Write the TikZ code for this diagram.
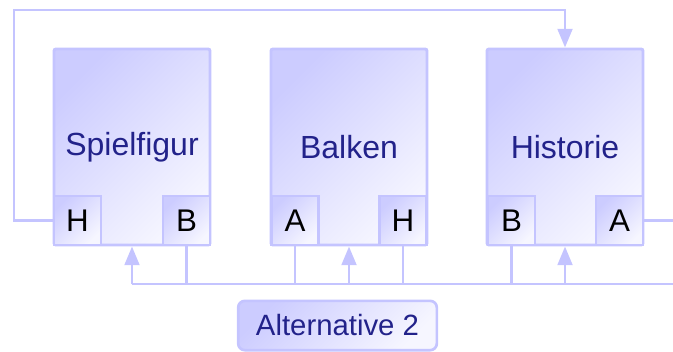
\documentclass[tikz,border=0pt]{standalone}
\usepackage{fontspec}
\setmainfont{Liberation Sans}
\usetikzlibrary{arrows.meta}
\definecolor{ln}{HTML}{C4C4FF}
\definecolor{fa}{HTML}{CCCCFF}
\definecolor{fb}{HTML}{F6F6FF}
\definecolor{tx}{HTML}{22228A}
\tikzset{
  grad/.style={top color=fa, bottom color=fb, shading angle=45},
  compbox/.style={draw=ln, line width=2.2pt, grad, rounded corners=1.5pt,
    minimum width=117pt, minimum height=147pt, inner sep=0pt,
    font=\fontsize{24}{28}\selectfont, text=tx},
  port/.style={draw=ln, line width=2.2pt, grad,
    minimum width=35.25pt, minimum height=36.75pt, inner sep=0pt,
    font=\fontsize{23.5}{28}\selectfont, text=black},
  wire/.style={draw=ln, line width=2.2pt},
  thinwire/.style={draw=ln, line width=1.5pt},
  arr/.style={wire, -{Triangle[width=11pt,length=14pt]}},
  labbox/.style={draw=ln, line width=2pt, grad, rounded corners=5pt,
    minimum width=149pt, minimum height=37pt, inner sep=0pt,
    font=\fontsize{22}{26}\selectfont, text=tx},
}
\begin{document}
\begin{tikzpicture}[x=0.75pt, y=-0.75pt]
\useasboundingbox (0,0) rectangle (673,351);
% boxes
\node[compbox] (sp) at (132,147) {Spielfigur};
\node[compbox] (ba) at (349,147) {Balken};
\node[compbox] (hi) at (565,147) {Historie};
% ports
\node[port] (spH) at (77.5,220.5) {H};
\node[port] (spB) at (186.5,220.5) {B};
\node[port] (baA) at (295,220.5) {A};
\node[port] (baH) at (403,220.5) {H};
\node[port] (hiB) at (511.5,220.5) {B};
\node[port] (hiA) at (619.5,220.5) {A};
% coordinates
\coordinate (lt) at (14,220.5);
\coordinate (tl) at (14,10);
\coordinate (tr) at (565,10);
\coordinate (bl) at (132,284);
\coordinate (br) at (673,284);
\coordinate (ar) at (673,220.5);
% top loop
\draw[arr] (spH.west) -- (lt) -- (tl) -- (tr) -- (hi.north);
% bus
\draw[wire] (bl) -- (br);
\draw[arr] (bl) -- (sp.south);
\draw[wire] (spB.south) -- (spB.south |- bl);
\draw[wire] (baA.south) -- (baA.south |- bl);
\draw[arr] (ba.south |- bl) -- (ba.south);
\draw[thinwire] (baH.south) -- (baH.south |- bl);
\draw[wire] (hiB.south) -- (hiB.south |- bl);
\draw[arr] (hi.south |- bl) -- (hi.south);
\draw[wire] (hiA.east) -- (ar);
% label
\node[labbox] (alt) at (337.5,325.5) {Alternative 2};
\end{tikzpicture}
\end{document}
